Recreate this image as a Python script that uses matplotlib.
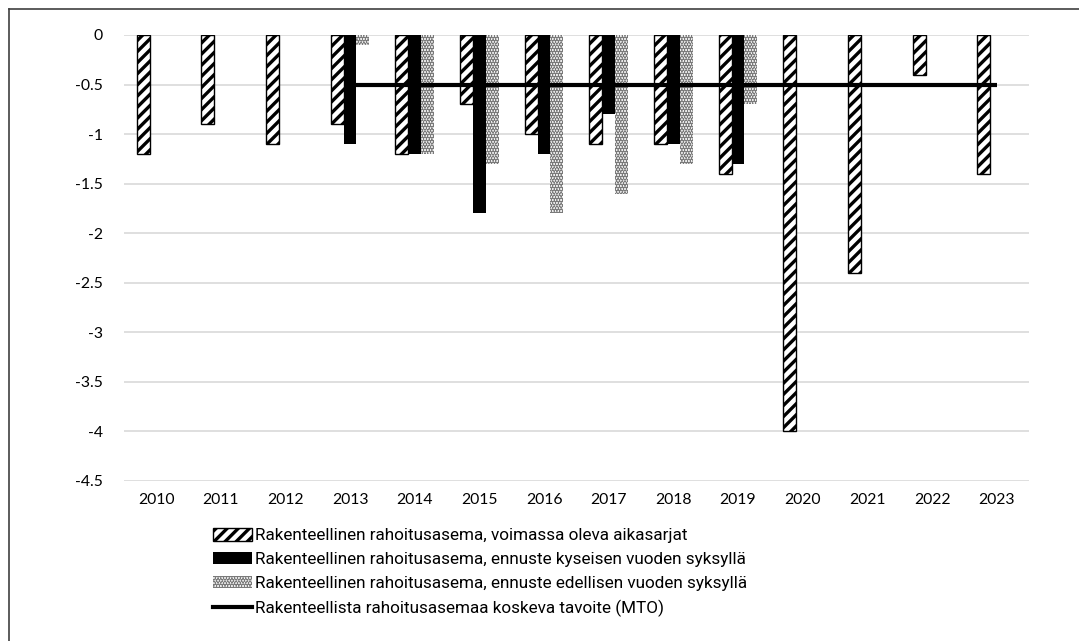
import matplotlib
matplotlib.use("Agg")
import matplotlib.pyplot as plt
import numpy as np
from matplotlib.lines import Line2D
from matplotlib.patches import Patch

years = [2010, 2011, 2012, 2013, 2014, 2015, 2016, 2017, 2018, 2019, 2020, 2021, 2022, 2023]
voimassa = [-1.2, -0.9, -1.1, -0.9, -1.2, -0.7, -1.0, -1.1, -1.1, -1.4, -4.0, -2.4, -0.4, -1.4]
kyseisen = [None, None, None, -1.1, -1.2, -1.8, -1.2, -0.8, -1.1, -1.3, None, None, None, None]
edellisen = [None, None, None, -0.1, -1.2, -1.3, -1.8, -1.6, -1.3, -0.7, None, None, None, None]
mto = [None, None, None, -0.5, -0.5, -0.5, -0.5, -0.5, -0.5, -0.5, -0.5, -0.5, -0.5, -0.5]

labels = [
    "Rakenteellinen rahoitusasema, voimassa oleva aikasarjat",
    "Rakenteellinen rahoitusasema, ennuste kyseisen vuoden syksyllä",
    "Rakenteellinen rahoitusasema, ennuste edellisen vuoden syksyllä",
    "Rakenteellista rahoitusasemaa koskeva tavoite (MTO)",
]
yticks = [0, -0.5, -1, -1.5, -2, -2.5, -3, -3.5, -4, -4.5]

plt.rcParams['hatch.linewidth'] = 2.4

W, H = 1079, 641
fig = plt.figure(figsize=(W / 100, H / 100), dpi=100)
ax = fig.add_axes([123.7 / W, 1 - 481 / H, (1029 - 123.7) / W, (481 - 35) / H])

x = np.arange(len(years))
bw = 0.2

def clean(vals):
    return np.array([np.nan if v is None else v for v in vals], dtype=float)

v1, v2, v3, vm = clean(voimassa), clean(kyseisen), clean(edellisen), clean(mto)

ax.bar(x - bw, v1, bw, facecolor='white', edgecolor='black', hatch='///', linewidth=1.0, zorder=3)
ax.bar(x, v2, bw, facecolor='black', edgecolor='black', linewidth=0, zorder=3)
ax.bar(x + bw, v3, bw, facecolor='white', edgecolor='#7a7a7a', hatch='......', linewidth=0, zorder=3)
ax.plot(x, vm, color='black', linewidth=3.0, solid_capstyle='butt', zorder=4)

ax.set_xlim(-0.5, len(years) - 0.5)
ax.set_ylim(-4.5, 0)
ax.set_yticks(yticks)
ax.set_yticklabels([f"{t:g}" for t in yticks])
ax.set_xticks(x)
ax.set_xticklabels([str(y) for y in years])
ax.grid(axis='y', color='#d9d9d9', linewidth=1.2, zorder=0)
ax.set_axisbelow(True)
for s in ax.spines.values():
    s.set_visible(False)
ax.tick_params(axis='both', length=0, labelsize=11.3, colors='black')
ax.tick_params(axis='y', pad=15)
ax.tick_params(axis='x', pad=9)
for lab in ax.get_xticklabels() + ax.get_yticklabels():
    lab.set_fontfamily('Lato')

handles = [
    Patch(facecolor='white', edgecolor='black', hatch='///', linewidth=1.0),
    Patch(facecolor='black', edgecolor='black', linewidth=0),
    Patch(facecolor='white', edgecolor='#7a7a7a', hatch='......', linewidth=0),
    Line2D([0], [0], color='black', linewidth=3.0),
]
fig.legend(handles, labels, loc='upper left', bbox_to_anchor=(213 / W, 1 - 528 / H),
           frameon=False, prop={'family': ['Roboto', 'DejaVu Sans'], 'size': 12.3},
           handlelength=2.3, handleheight=0.75, handletextpad=0.15, labelspacing=0.5,
           borderpad=0, borderaxespad=0)

# outer frame (left and top visible)
fig.add_artist(Line2D([9 / W, 9 / W], [0, 1 - 9 / H], transform=fig.transFigure, color='#404040', linewidth=1.2))
fig.add_artist(Line2D([9 / W, 1], [1 - 9 / H, 1 - 9 / H], transform=fig.transFigure, color='#404040', linewidth=1.2))

fig.savefig('out.png', dpi=100)
